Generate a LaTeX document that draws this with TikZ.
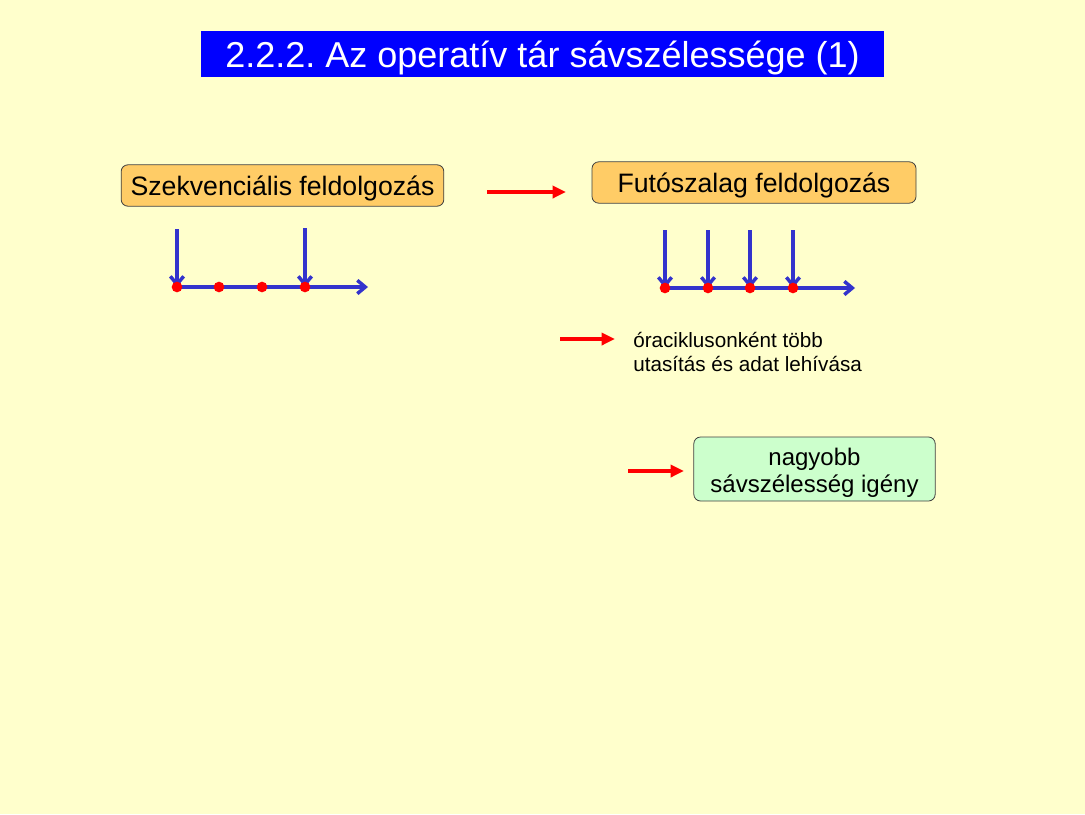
\documentclass[tikz,border=0pt]{standalone}
\usepackage{fontspec}
\setmainfont{Liberation Sans}
\usetikzlibrary{arrows.meta}
\definecolor{paper}{RGB}{255,255,204}
\definecolor{titleblue}{RGB}{0,0,255}
\definecolor{boxorange}{RGB}{255,204,102}
\definecolor{boxgreen}{RGB}{204,255,204}
\definecolor{lineblue}{RGB}{51,51,204}
\frenchspacing

\begin{document}
\begin{tikzpicture}[x=0.75pt,y=-0.75pt,
    box/.style={draw=black!75, line width=0.6pt, rounded corners=5pt, inner sep=0pt},
    redarrow/.style={red, line width=3pt, -{Triangle[length=10pt,width=9pt]}},
    bluearrow/.style={lineblue, line width=2.6pt, -{Straight Barb[length=6pt,width=10pt]}}]
    \fill[paper] (0,0) rectangle (1085,814); % the slide
    \useasboundingbox (0,0) rectangle (1085,814);
    \node[fill=titleblue, text=white, minimum width=512pt, minimum height=34.5pt, inner sep=0pt,
        text depth=0pt, font=\fontsize{27}{32}\selectfont] (title) at (542.5,54) {2.2.2. Az operatív tár sávszélessége (1)};
    \node[box, fill=boxorange, minimum width=242pt, minimum height=31pt, text depth=0pt,
        font=\fontsize{20}{24}\selectfont] (seq) at (282.5,185.5) {Szekvenciális feldolgozás};
    \node[box, fill=boxorange, minimum width=243pt, minimum height=31pt, text depth=0pt,
        font=\fontsize{20}{24}\selectfont] (pipe) at (754,182.5) {Futószalag feldolgozás};
    \node[anchor=west, align=left, inner sep=0pt,
        font=\fontsize{15.5}{18}\selectfont] (fetch) at (633,352) {óraciklusonként több\\utasítás és adat lehívása};
    \node[box, fill=boxgreen, minimum width=181pt, minimum height=48pt, align=center,
        font=\fontsize{18}{20}\selectfont] (band) at (814.5,469) {\rule{0pt}{19pt}nagyobb\\sávszélesség igény};
    % red arrows
    \coordinate (r1a) at (487,192);
    \coordinate (r1b) at (566,192);
    \coordinate (r2a) at (560,339);
    \coordinate (r2b) at (615,339);
    \coordinate (r3a) at (628,471);
    \coordinate (r3b) at (684,471);
    \draw[redarrow] (r1a) -- (r1b);
    \draw[redarrow] (r2a) -- (r2b);
    \draw[redarrow] (r3a) -- (r3b);
    % sequential time line
    \foreach \i/\x in {0/177,1/219,2/262,3/305}
    \coordinate (s\i) at (\x,287);
    \coordinate (send) at (368,287);
    \coordinate (st0) at (177,229);
    \coordinate (st3) at (305,228);
    \draw[bluearrow] (s0) -- (send);
    \draw[bluearrow] (st0) -- (s0);
    \draw[bluearrow] (st3) -- (s3);
    \foreach \i in {0,...,3}
    \fill[red] (s\i) circle (4pt);
    % pipelined time line
    \foreach \i/\x in {0/665,1/708,2/750,3/793}
    \coordinate (p\i) at (\x,288);
    \coordinate (pend) at (855,288);
    \draw[bluearrow] (p0) -- (pend);
    \foreach \i/\x in {0/665,1/708,2/750,3/793}
    \draw[bluearrow] (\x,230) -- (p\i);
    \foreach \i in {0,...,3}
    \fill[red] (p\i) circle (4pt);
\end{tikzpicture}
\end{document}
